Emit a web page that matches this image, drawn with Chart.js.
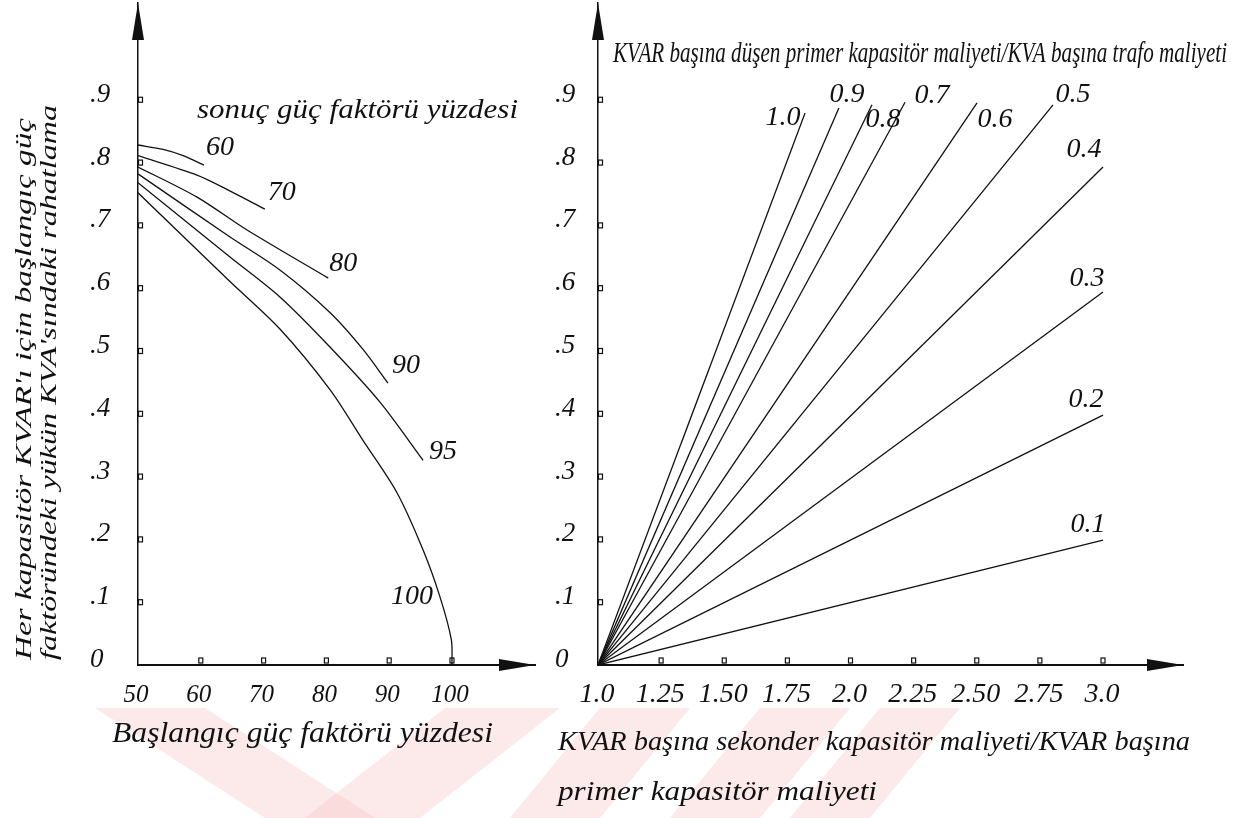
<!DOCTYPE html>
<html lang="tr">
<head>
<meta charset="utf-8">
<title>Kapasitör KVA rahatlaması</title>
<script src="https://cdn.jsdelivr.net/npm/chart.js@4.4.1/dist/chart.umd.min.js"></script>
<style>
  html, body { margin: 0; padding: 0; background: #fff; }
  #page { position: relative; width: 1250px; height: 818px; overflow: hidden; }
  .panel { position: absolute; top: 0; }
  #leftPanel { left: 0; }
  #rightPanel { left: 550px; }
</style>
</head>
<body>
<div id="page">
  <div class="panel" id="leftPanel"><canvas id="chartLeft" width="550" height="818"></canvas></div>
  <div class="panel" id="rightPanel"><canvas id="chartRight" width="700" height="818"></canvas></div>
</div>
<script>
// ---- Ortak y ekseni ----
const yTicks = [0, 0.1, 0.2, 0.3, 0.4, 0.5, 0.6, 0.7, 0.8, 0.9];
const yTickLabels = ['0', '.1', '.2', '.3', '.4', '.5', '.6', '.7', '.8', '.9'];

// ---- Sol grafik: başlangıç güç faktörü (%) ----
const leftXTicks = [50, 60, 70, 80, 90, 100];
const leftXTickLabels = ['50', '60', '70', '80', '90', '100'];

// sonuç güç faktörü eğrileri (resimden okunan noktalar)
const curveNames = ['60', '70', '80', '90', '95', '100'];
const pf60X = [50, 54, 57.2, 60.5];
const pf60Y = [0.828, 0.821, 0.811, 0.796];
const pf70X = [50, 59.4, 64.6, 70.2];
const pf70Y = [0.811, 0.780, 0.755, 0.726];
const pf80X = [50, 59.4, 67.3, 80.3];
const pf80Y = [0.793, 0.745, 0.693, 0.616];
const pf90X = [50, 64.6, 72.6, 80.6, 85.8, 89.8];
const pf90Y = [0.782, 0.682, 0.629, 0.561, 0.503, 0.449];
const pf95X = [50, 64.6, 72.6, 80.6, 88.5, 95.4];
const pf95Y = [0.768, 0.650, 0.586, 0.506, 0.419, 0.326];
const pf100X = [50, 64.6, 72.6, 80.6, 85.8, 91.2, 95.4, 98.1, 99.9, 100];
const pf100Y = [0.752, 0.611, 0.535, 0.438, 0.358, 0.275, 0.183, 0.108, 0.040, 0];

// ---- Sağ grafik: sekonder/primer kapasitör maliyeti oranı ----
const rightXTicks = [1.0, 1.25, 1.5, 1.75, 2.0, 2.25, 2.5, 2.75, 3.0];
const rightXTickLabels = ['1.0', '1.25', '1.50', '1.75', '2.0', '2.25', '2.50', '2.75', '3.0'];

// primer kapasitör / trafo maliyet oranı doğruları
const ratioNames = ['1.0', '0.9', '0.8', '0.7', '0.6', '0.5', '0.4', '0.3', '0.2', '0.1'];
const lineStartX = 1.0;
const lineStartY = 0;
const lineEndX = [1.82, 1.954, 2.085, 2.216, 2.501, 2.802, 3.0, 3.0, 3.0, 3.0];
const lineEndY = [0.879, 0.887, 0.892, 0.896, 0.895, 0.892, 0.793, 0.594, 0.398, 0.199];

// ---- Stil ----
const INK = '#111';
const SERIF = '"Liberation Serif", "Times New Roman", serif';

// etiketlerin eğri ucuna göre kaydırması (piksel)
const leftLabelOffset = { '60': [16, -17], '70': [17, -16], '80': [15, -14], '90': [18, -17], '95': [20, -9], '100': [-40, -68] };
const rightLabelOffset = {
  '1.0': [-22, 5], '0.9': [8, -13], '0.8': [11, 15], '0.7': [27, -7], '0.6': [18, 17],
  '0.5': [20, -10], '0.4': [-19, -17], '0.3': [-16, -13], '0.2': [-17, -15], '0.1': [-15, -15]
};

// Yazıyı verilen genişliğe sığdır (yatay ölçekle)
function fitText(ctx, text, x, y, width, size, angle) {
  ctx.save();
  ctx.font = `italic ${size}px ${SERIF}`;
  ctx.textAlign = 'left';
  ctx.textBaseline = 'alphabetic';
  const w = ctx.measureText(text).width;
  ctx.translate(x, y);
  if (angle) ctx.rotate(angle);
  ctx.scale(width / w, 1);
  ctx.fillStyle = INK;
  ctx.fillText(text, 0, 0);
  ctx.restore();
}

// Tez filigranı (açık pembe şeritler), sayfa koordinatlarında
function drawWatermark(ctx, offsetX) {
  const bands = [
    [[95, 708], [205, 708], [375, 818], [265, 818]],
    [[445, 708], [560, 708], [420, 818], [305, 818]],
    [[600, 708], [690, 708], [600, 818], [510, 818]],
    [[760, 708], [850, 708], [760, 818], [670, 818]],
    [[880, 708], [960, 708], [870, 818], [790, 818]]
  ];
  ctx.save();
  ctx.fillStyle = 'rgba(248, 200, 200, 0.4)';
  bands.forEach(b => {
    ctx.beginPath();
    b.forEach(([px, py], i) => i ? ctx.lineTo(px - offsetX, py) : ctx.moveTo(px - offsetX, py));
    ctx.closePath();
    ctx.fill();
  });
  ctx.restore();
}

function drawAxisDecor(chart) {
  const {ctx, chartArea: a, scales: {x, y}} = chart;
  ctx.save();
  ctx.fillStyle = INK;
  ctx.strokeStyle = INK;
  // ok uçları
  ctx.beginPath();
  ctx.moveTo(a.left, a.top);
  ctx.lineTo(a.left - 6, a.top + 37);
  ctx.lineTo(a.left + 6, a.top + 37);
  ctx.closePath();
  ctx.fill();
  ctx.beginPath();
  ctx.moveTo(a.right, a.bottom);
  ctx.lineTo(a.right - 36, a.bottom - 6);
  ctx.lineTo(a.right - 36, a.bottom + 6);
  ctx.closePath();
  ctx.fill();
  // küçük kare işaretler
  ctx.lineWidth = 1.2;
  x.ticks.forEach((t, i) => {
    if (!i) return;
    const px = x.getPixelForValue(t.value);
    ctx.strokeRect(px - 2, a.bottom - 7, 4, 5);
  });
  y.ticks.forEach((t, i) => {
    if (!i) return;
    const py = y.getPixelForValue(t.value);
    ctx.strokeRect(a.left + 0.5, py - 2.5, 4, 5);
  });
  ctx.restore();
}

function drawSeriesLabels(chart, offsets) {
  const {ctx} = chart;
  ctx.save();
  ctx.font = `italic 28px ${SERIF}`;
  ctx.fillStyle = INK;
  ctx.textAlign = 'center';
  ctx.textBaseline = 'middle';
  chart.data.datasets.forEach((ds, i) => {
    const pts = chart.getDatasetMeta(i).data;
    const end = pts[pts.length - 1];
    const [dx, dy] = offsets[ds.label];
    ctx.fillText(ds.label, end.x + dx, end.y + dy);
  });
  ctx.restore();
}

function tickFont(size) {
  return { family: SERIF, style: 'italic', size: size };
}

function makeScales(xTicks, xLabels, xMin, xMax, yMax, yWidth, xFont, xPad, xOffset) {
  return {
    x: {
      type: 'linear', min: xMin, max: xMax,
      afterBuildTicks: s => { s.ticks = xTicks.map(v => ({ value: v })); },
      afterFit: s => { s.height = 153; s.paddingLeft = 0; s.paddingRight = 0; },
      grid: { display: false, drawTicks: false },
      border: { display: true, color: INK, width: 2 },
      ticks: {
        autoSkip: false, maxRotation: 0, minRotation: 0,
        padding: xPad, labelOffset: xOffset, color: INK, font: tickFont(xFont),
        callback: (v, i) => xLabels[i]
      }
    },
    y: {
      type: 'linear', min: 0, max: yMax,
      afterBuildTicks: s => { s.ticks = yTicks.map(v => ({ value: v })); },
      afterFit: s => { s.width = yWidth; s.paddingTop = 0; s.paddingBottom = 0; },
      grid: { display: false, drawTicks: false },
      border: { display: true, color: INK, width: 1.5 },
      ticks: {
        autoSkip: false, crossAlign: 'far', padding: 0, labelOffset: -5,
        color: INK, font: tickFont(27),
        callback: (v, i) => yTickLabels[i]
      }
    }
  };
}

// ---- Sol grafik ----
const leftSeries = [[pf60X, pf60Y], [pf70X, pf70Y], [pf80X, pf80Y], [pf90X, pf90Y], [pf95X, pf95Y], [pf100X, pf100Y]];
const leftDatasets = curveNames.map((name, i) => ({
  label: name,
  data: leftSeries[i][0].map((xv, j) => ({ x: xv, y: leftSeries[i][1][j] })),
  borderColor: INK,
  borderWidth: 1.3,
  pointRadius: 0,
  tension: 0.3,
  fill: false
}));

new Chart(document.getElementById('chartLeft'), {
  type: 'line',
  data: { datasets: leftDatasets },
  options: {
    responsive: false,
    animation: false,
    events: [],
    layout: { padding: { left: 90, top: 3, right: 15, bottom: 0 } },
    plugins: { legend: { display: false }, tooltip: { enabled: false } },
    scales: makeScales(leftXTicks, leftXTickLabels, 50, 113.22, 1.0541, 48, 25, 15, -2)
  },
  plugins: [{
    id: 'leftDecor',
    beforeDraw: chart => drawWatermark(chart.ctx, 0),
    afterDraw: chart => {
      const ctx = chart.ctx;
      drawAxisDecor(chart);
      drawSeriesLabels(chart, leftLabelOffset);
      fitText(ctx, 'sonuç güç faktörü yüzdesi', 197, 118, 321, 28);
      fitText(ctx, 'Başlangıç güç faktörü yüzdesi', 112, 742, 381, 29);
      fitText(ctx, "Her kapasitör KVAR'ı için başlangıç güç", 31, 660, 542, 24, -Math.PI / 2);
      fitText(ctx, "faktöründeki yükün KVA'sındaki rahatlama", 56, 660, 555, 24, -Math.PI / 2);
    }
  }]
});

// ---- Sağ grafik ----
const rightDatasets = ratioNames.map((name, i) => ({
  label: name,
  data: [{ x: lineStartX, y: lineStartY }, { x: lineEndX[i], y: lineEndY[i] }],
  borderColor: INK,
  borderWidth: 1.3,
  pointRadius: 0,
  fill: false
}));

new Chart(document.getElementById('chartRight'), {
  type: 'line',
  data: { datasets: rightDatasets },
  options: {
    responsive: false,
    animation: false,
    events: [],
    layout: { padding: { left: 5, top: 3, right: 67, bottom: 0 } },
    plugins: { legend: { display: false }, tooltip: { enabled: false } },
    scales: makeScales(rightXTicks, rightXTickLabels, 1.0, 3.3168, 1.0541, 43, 28, 13, -1)
  },
  plugins: [{
    id: 'rightDecor',
    beforeDraw: chart => drawWatermark(chart.ctx, 550),
    afterDraw: chart => {
      const ctx = chart.ctx;
      drawAxisDecor(chart);
      drawSeriesLabels(chart, rightLabelOffset);
      fitText(ctx, 'KVAR başına düşen primer kapasitör maliyeti/KVA başına trafo maliyeti', 63, 62, 614, 30);
      fitText(ctx, 'KVAR başına sekonder kapasitör maliyeti/KVAR başına', 8, 750, 632, 28);
      fitText(ctx, 'primer kapasitör maliyeti', 8, 800, 319, 28);
    }
  }]
});
</script>
</body>
</html>
